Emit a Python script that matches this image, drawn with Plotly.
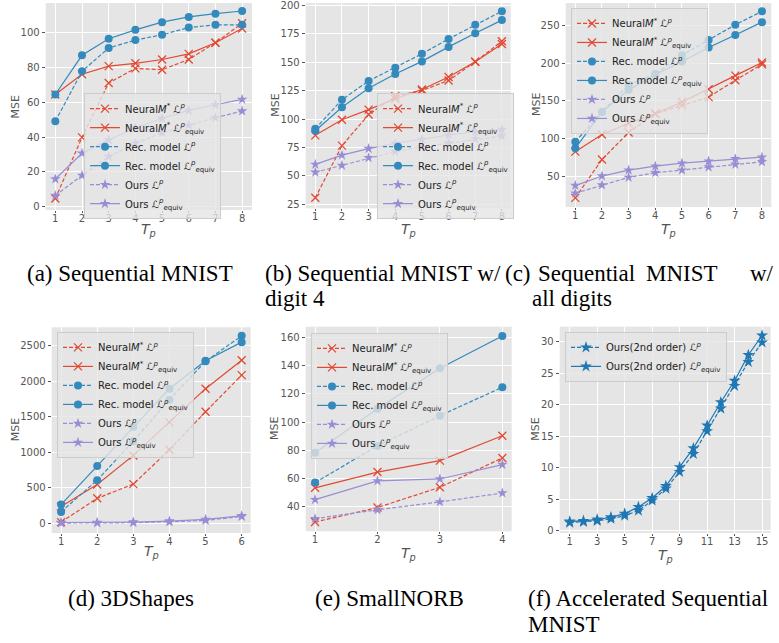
import plotly.graph_objects as go

W, H = 779, 643

RED = '#E24A33'
BLUE = '#348ABD'
PURPLE = '#988ED5'
BLUE2 = '#1f77b4'

# ---------- data ----------
tp_a = [1, 2, 3, 4, 5, 6, 7, 8]
a_neural_p = [4.7, 39.8, 71.0, 79.4, 78.6, 84.5, 94.1, 105.3]
a_neural_eq = [64.4, 76.0, 80.7, 82.3, 84.5, 87.7, 94.1, 102.3]
a_rec_p = [49.0, 77.7, 91.1, 95.6, 98.7, 102.8, 104.4, 104.4]
a_rec_eq = [64.4, 86.9, 96.4, 101.5, 105.9, 108.9, 110.8, 112.3]
a_ours_p = [6.4, 18.0, 28.8, 36.4, 42.4, 46.8, 51.1, 54.9]
a_ours_eq = [15.9, 30.7, 38.3, 45.3, 50.6, 55.3, 58.5, 61.6]

tp_b = [1, 2, 3, 4, 5, 6, 7, 8]
b_neural_p = [30.5, 76.5, 103.9, 120.0, 125.2, 133.9, 150.5, 168.6]
b_neural_eq = [85.6, 99.3, 108.3, 117.9, 126.0, 137.1, 150.5, 166.2]
b_rec_p = [91.4, 117.0, 133.6, 145.3, 157.5, 170.6, 183.1, 195.1]
b_rec_eq = [89.6, 110.3, 127.2, 139.7, 150.8, 163.6, 175.6, 187.2]
b_ours_p = [53.0, 59.1, 65.8, 71.3, 75.4, 78.6, 82.4, 85.0]
b_ours_eq = [60.0, 68.1, 73.9, 78.6, 82.0, 85.9, 88.8, 90.8]

tp_c = [1, 2, 3, 4, 5, 6, 7, 8]
c_neural_p = [21.0, 72.0, 108.0, 133.0, 144.0, 155.0, 177.5, 198.6]
c_neural_eq = [82.5, 105.4, 120.3, 133.0, 148.5, 165.6, 183.6, 201.2]
c_rec_p = [95.7, 135.3, 171.3, 185.8, 210.9, 231.0, 251.3, 269.3]
c_rec_eq = [86.9, 135.3, 164.7, 185.0, 202.5, 221.0, 237.7, 254.8]
c_ours_p = [27.1, 38.1, 48.2, 54.4, 57.9, 61.9, 65.4, 68.9]
c_ours_eq = [37.3, 50.0, 57.9, 63.2, 67.1, 69.8, 72.9, 75.1]

tp_d = [1, 2, 3, 4, 5, 6]
d_neural_p = [14, 349, 549, 1034, 1569, 2086]
d_neural_eq = [233, 545, 954, 1420, 1895, 2295]
d_rec_p = [158, 605, 1155, 1740, 2281, 2640]
d_rec_eq = [261, 805, 1359, 1895, 2290, 2551]
d_ours_p = [0, 2, 5, 18, 37, 93]
d_ours_eq = [8, 10, 14, 28, 51, 102]

tp_e = [1, 2, 3, 4]
e_neural_p = [29.0, 39.3, 53.7, 74.5]
e_neural_eq = [53.3, 64.5, 72.6, 90.3]
e_rec_p = [57.0, 83.1, 104.5, 124.8]
e_rec_eq = [78.2, 109.4, 138.3, 161.2]
e_ours_p = [31.4, 37.7, 43.3, 49.6]
e_ours_eq = [44.9, 58.2, 59.6, 69.8]

tp_f = list(range(1, 16))
f_ours2_p = [1.3, 1.4, 1.57, 1.9, 2.4, 3.2, 4.8, 6.7, 9.35, 12.2, 15.8, 19.4, 23.0, 26.8, 29.9]
f_ours2_eq = [1.46, 1.57, 1.78, 2.14, 2.72, 3.76, 5.2, 7.1, 10.1, 13.1, 16.7, 20.4, 23.8, 27.9, 31.0]

LP = '<i>ℒ</i><sup><i>p</i></sup>'
LEQ = '<i>ℒ</i><sup><i>p</i></sup><sub>equiv</sub>'
names = ['Neural<i>M</i><sup>*</sup> ' + LP, 'Neural<i>M</i><sup>*</sup> ' + LEQ,
         'Rec. model ' + LP, 'Rec. model ' + LEQ,
         'Ours ' + LP, 'Ours ' + LEQ]
names_f = ['Ours(2nd order) ' + LP, 'Ours(2nd order) ' + LEQ]

# ---------- layout geometry (pixels) ----------
panels = {
    # key: (x0, x1, ytop, ybottom, xrange, yrange, xticks, yticks, legend_xy, mse_x, tp_y)
    'a': (45.7, 252.0, 0.0, 209.0, [0.64, 8.37], [-1.9, 116.9], tp_a, [0, 20, 40, 60, 80, 100], (84, 91), 16, 229),
    'b': (305.7, 510.7, 0.0, 207.3, [0.64, 8.33], [21.2, 202.3], tp_b, [25, 50, 75, 100, 125, 150, 175, 200], (377, 91), 276, 229),
    'c': (565.7, 771.3, 0.0, 206.0, [0.64, 8.35], [8.7, 280.3], tp_c, [50, 100, 150, 200, 250], (571, 5), 536, 229),
    'd': (51.7, 250.7, 327.3, 535.0, [0.74, 6.25], [-140, 2761], tp_d, [0, 500, 1000, 1500, 2000, 2500], (57, 332), 15, 554),
    'e': (305.7, 511.7, 326.7, 533.3, [0.85, 4.15], [22.4, 167.8], tp_e, [40, 60, 80, 100, 120, 140, 160], (311, 333), 275, 556),
    'f': (559.7, 770.7, 326.7, 535.0, [0.27, 15.63], [-0.36, 32.4], [1, 3, 5, 7, 9, 11, 13, 15], [0, 5, 10, 15, 20, 25, 30], (565, 332), 536, 558),
}

fig = go.Figure()

def add(idx, x, y, name, color, dash, symbol, size, legend):
    axn = '' if idx == 1 else str(idx)
    marker = dict(symbol=symbol, size=size, color=color)
    if symbol == 'x-thin':
        marker['line'] = dict(width=1.3, color=color)
    fig.add_trace(go.Scatter(
        x=x, y=y, name=name, mode='lines+markers',
        line=dict(color=color, width=1.2, dash=dash),
        marker=marker, xaxis='x' + axn, yaxis='y' + axn, legend=legend,
    ))

DASH = '4px,2px'
datasets = [
    ('a', tp_a, [a_neural_p, a_neural_eq, a_rec_p, a_rec_eq, a_ours_p, a_ours_eq]),
    ('b', tp_b, [b_neural_p, b_neural_eq, b_rec_p, b_rec_eq, b_ours_p, b_ours_eq]),
    ('c', tp_c, [c_neural_p, c_neural_eq, c_rec_p, c_rec_eq, c_ours_p, c_ours_eq]),
    ('d', tp_d, [d_neural_p, d_neural_eq, d_rec_p, d_rec_eq, d_ours_p, d_ours_eq]),
    ('e', tp_e, [e_neural_p, e_neural_eq, e_rec_p, e_rec_eq, e_ours_p, e_ours_eq]),
]
styles = [(RED, DASH, 'x-thin', 8), (RED, 'solid', 'x-thin', 8),
          (BLUE, DASH, 'circle', 8), (BLUE, 'solid', 'circle', 8),
          (PURPLE, DASH, 'star', 8), (PURPLE, 'solid', 'star', 8)]

for i, (key, xs, series) in enumerate(datasets):
    idx = i + 1
    leg = 'legend' if idx == 1 else 'legend' + str(idx)
    for s, nm, st in zip(series, names, styles):
        add(idx, xs, s, nm, st[0], st[1], st[2], st[3], leg)

add(6, tp_f, f_ours2_p, names_f[0], BLUE2, DASH, 'star', 9, 'legend6')
add(6, tp_f, f_ours2_eq, names_f[1], BLUE2, 'solid', 'star', 9, 'legend6')

layout = dict(
    width=W, height=H, margin=dict(l=0, r=0, t=0, b=0),
    paper_bgcolor='white', plot_bgcolor='#E5E5E5', showlegend=True,
)

TICKFONT = dict(family='DejaVu Sans', size=10, color='#555555')
annotations = []
for i, key in enumerate(['a', 'b', 'c', 'd', 'e', 'f']):
    x0, x1, yt, yb, xr, yr, xt, yt_ticks, (lx, ly), mse_x, tp_y = panels[key]
    idx = i + 1
    axn = '' if idx == 1 else str(idx)
    layout['xaxis' + axn] = dict(
        domain=[x0 / W, x1 / W], range=xr, anchor='y' + axn,
        tickvals=xt, ticks='outside', ticklen=2, tickcolor='#555555', tickwidth=1,
        showgrid=True, gridcolor='white', gridwidth=1, zeroline=False, showline=False,
        tickfont=TICKFONT, ticklabelstandoff=-3,
    )
    layout['yaxis' + axn] = dict(
        domain=[1 - yb / H, 1 - yt / H], range=yr, anchor='x' + axn,
        tickvals=yt_ticks, ticks='outside', ticklen=3, tickcolor='#555555', tickwidth=1,
        showgrid=True, gridcolor='white', gridwidth=1, zeroline=False, showline=False,
        tickfont=TICKFONT, ticklabeloverflow='allow',
    )
    legname = 'legend' if idx == 1 else 'legend' + str(idx)
    layout[legname] = dict(
        x=lx / W, y=1 - ly / H, xanchor='left', yanchor='top', xref='paper', yref='paper',
        bgcolor='rgba(229,229,229,0.8)', bordercolor='#cccccc', borderwidth=1,
        font=dict(family='DejaVu Sans', size=10, color='#222222'),
        tracegroupgap=0, itemwidth=30,
    )
    # axis titles
    annotations.append(dict(text='MSE', x=mse_x / W, y=1 - (yt + yb) / 2 / H, xref='paper', yref='paper',
                            textangle=-90, showarrow=False, xanchor='center', yanchor='middle',
                            font=dict(family='DejaVu Sans', size=11, color='#555555')))
    annotations.append(dict(text='<i>T</i><sub><i>p</i></sub>', x=(x0 + x1) / 2 / W, y=1 - tp_y / H,
                            xref='paper', yref='paper', showarrow=False, xanchor='center', yanchor='middle',
                            font=dict(family='DejaVu Sans', size=14, color='#555555')))

CAP = dict(family='Liberation Serif', size=23, color='black')
captions = [
    ('(a) Sequential MNIST', 25, 273),
    ('(b) Sequential MNIST w/', 263, 273),
    ('digit 4', 263, 298),
    ('(c)', 503, 273),
    ('Sequential', 536, 273),
    ('MNIST', 644, 273),
    ('w/', 748, 273),
    ('all digits', 530, 298),
    ('(d) 3DShapes', 66, 601),
    ('(e) SmallNORB', 313, 601),
    ('(f) Accelerated Sequential', 526, 601),
    ('MNIST', 526, 627),
]
for txt, px, py in captions:
    annotations.append(dict(text=txt, x=px / W, y=1 - py / H, xref='paper', yref='paper',
                            xanchor='left', yanchor='middle', showarrow=False, font=CAP))

layout['annotations'] = annotations
fig.update_layout(**layout)

fig.write_html('out.html')
